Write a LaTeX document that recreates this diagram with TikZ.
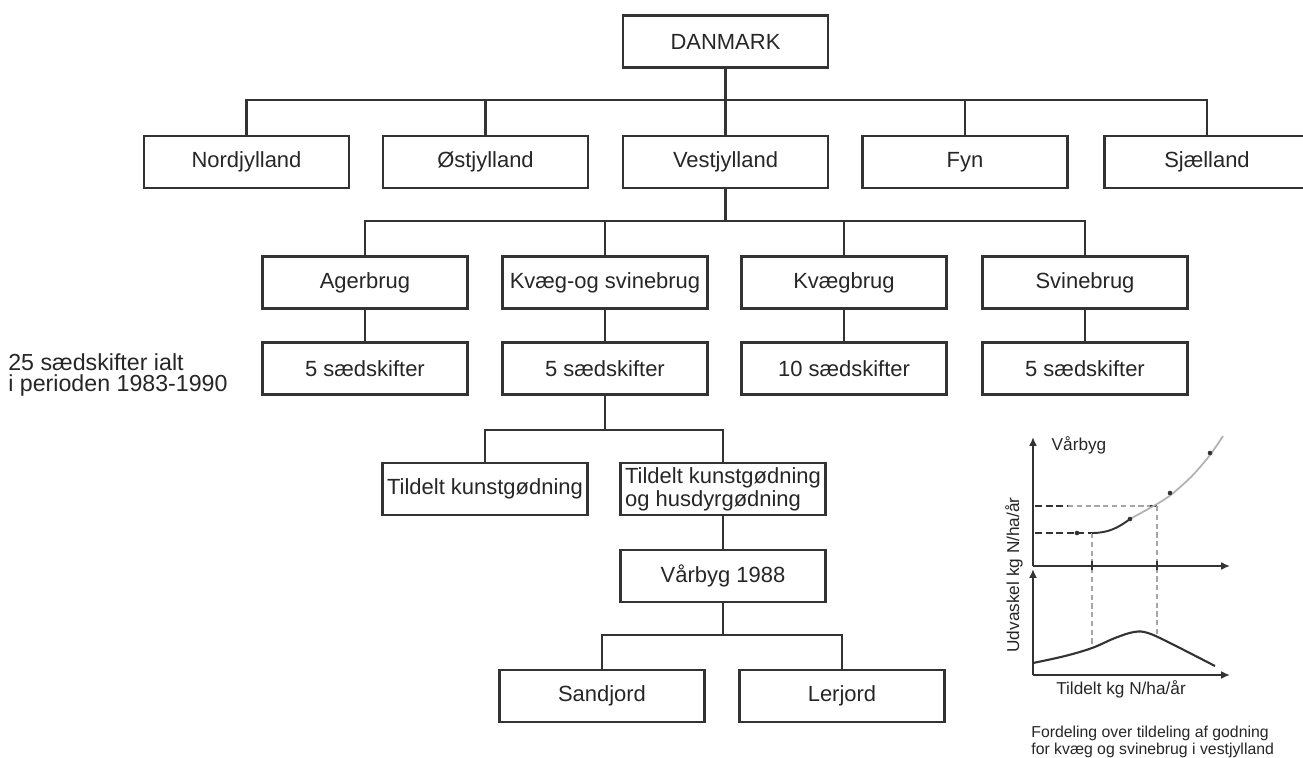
\documentclass[tikz,border=0pt]{standalone}
\usepackage{fontspec}
\setmainfont{Liberation Sans}
\usepackage{tikz}
\usetikzlibrary{arrows.meta}
\usepackage{xcolor}
\colorlet{ink}{black!80}

\begin{document}
\begin{tikzpicture}[x=0.02cm,y=-0.02cm,
  box/.style={draw=ink,line width=1.3pt,minimum width=4.1cm,minimum height=1.04cm,inner sep=0pt,text=black!85,font=\fontsize{12.5}{13}\selectfont},
  link/.style={draw=ink,line width=1.4pt},
  axis/.style={draw=ink,line width=1.1pt,-{Latex[length=5pt,width=4.5pt]}},
  darkdash/.style={draw=ink,line width=1.1pt,dash pattern=on 4pt off 2pt},
  greydash/.style={draw=black!35,line width=1.1pt,dash pattern=on 3pt off 2pt},
  lab/.style={font=\fontsize{9.8}{10}\selectfont,inner sep=0pt,text=black!85}]
\useasboundingbox (0,0) rectangle (1303,758);

\node[box] (dk) at (725.5,41.5) {DANMARK};
\node[box] (nord) at (246.5,162) {Nordjylland};
\node[box] (ost) at (485.5,162) {Østjylland};
\node[box] (vest) at (725.5,162) {Vestjylland};
\node[box] (fyn) at (965,162) {Fyn};
\node[box] (sjael) at (1207,162) {Sjælland};

\node[box] (ager) at (365,282.5) {Agerbrug};
\node[box] (kvsv) at (605,282.5) {Kvæg-og svinebrug};
\node[box] (kvaeg) at (844,282.5) {Kvægbrug};
\node[box] (svine) at (1085,282.5) {Svinebrug};

\node[box] (skA) at (365,368.5) {5 sædskifter};
\node[box] (skB) at (605,368.5) {5 sædskifter};
\node[box] (skC) at (844,368.5) {10 sædskifter};
\node[box] (skD) at (1085,368.5) {5 sædskifter};

\node[anchor=west,align=left,inner sep=0pt,text=black!85,font=\fontsize{13.2}{12.5}\selectfont] (total) at (8,375) {25 sædskifter ialt\\i perioden 1983-1990};

\node[box] (kunst) at (485,489) {Tildelt kunstgødning};
\node[box,align=left] (husdyr) at (723,489) {Tildelt kunstgødning\\og husdyrgødning};
\node[box] (vaar) at (723,576) {Vårbyg 1988};
\node[box] (sand) at (602,696) {Sandjord};
\node[box] (ler) at (842,696) {Lerjord};

\coordinate (bus1) at (725.5,100);
\coordinate (bus2) at (725.5,221);
\coordinate (bus3) at (605,430);
\coordinate (bus4) at (723,635);

\draw[link] (dk) -- (vest);
\draw[link] (nord.north) |- (bus1) -| (sjael.north);
\draw[link] (ost.north) -- (ost.north |- bus1);
\draw[link] (fyn.north) -- (fyn.north |- bus1);
\draw[link] (vest) -- (bus2);
\draw[link] (ager.north) |- (bus2) -| (svine.north);
\draw[link] (kvsv.north) -- (kvsv.north |- bus2);
\draw[link] (kvaeg.north) -- (kvaeg.north |- bus2);
\draw[link] (ager) -- (skA);
\draw[link] (kvsv) -- (skB);
\draw[link] (kvaeg) -- (skC);
\draw[link] (svine) -- (skD);
\draw[link] (skB) -- (bus3);
\draw[link] (kunst.north) |- (bus3) -| (husdyr.north);
\draw[link] (husdyr) -- (vaar);
\draw[link] (vaar) -- (bus4);
\draw[link] (sand.north) |- (bus4) -| (ler.north);

\coordinate (o1) at (1033,566);
\coordinate (o2) at (1033,675);
\draw[axis] (o1) -- (1033,437);
\draw[axis] (o1) -- (1230,566);
\draw[axis] (o2) -- (1033,569);
\draw[axis] (o2) -- (1230,675);
\node[lab] (crop) at (1079,445) {Vårbyg};
\node[lab,rotate=90] (ylab) at (1014,575) {Udvaskel kg N/ha/år};
\node[lab] (xlab) at (1121,689) {Tildelt kg N/ha/år};
\node[anchor=north west,align=left,inner sep=0pt,text=black!85,font=\fontsize{9}{9.3}\selectfont] (caption) at (1031,726) {Fordeling over tildeling af godning\\for kvæg og svinebrug i vestjylland};

\draw[darkdash] (1035,533) -- (1092,533);
\draw[darkdash] (1035,506) -- (1068,506);
\draw[greydash] (1068,506) -- (1150,506);
\draw[darkdash] (1150,506) -- (1157,506);
\draw[greydash] (1092,533) -- (1092,648);
\draw[greydash] (1157,506) -- (1157,636);
\draw[ink,line width=1pt] (1092,561) -- (1092,570);
\draw[ink,line width=1pt] (1157,561) -- (1157,570);
\draw[ink,line width=1.1pt] (1092,533) .. controls (1108,533) and (1118,528) .. (1130,519);
\draw[black!30,line width=1pt] plot[smooth] coordinates {(1130,519) (1157,504) (1172,494) (1192,476) (1210,455) (1223,436)};
\fill[ink] (1077,533) circle (2.3);
\fill[ink] (1130,519) circle (2.3);
\fill[ink] (1170,493) circle (2.3);
\fill[ink] (1210,453) circle (2.3);
\draw[ink,line width=1.2pt] plot[smooth,tension=0.6] coordinates {(1033,663) (1065,656) (1092,648) (1115,638) (1134,632) (1148,633) (1170,643) (1215,666)};
\end{tikzpicture}
\end{document}
